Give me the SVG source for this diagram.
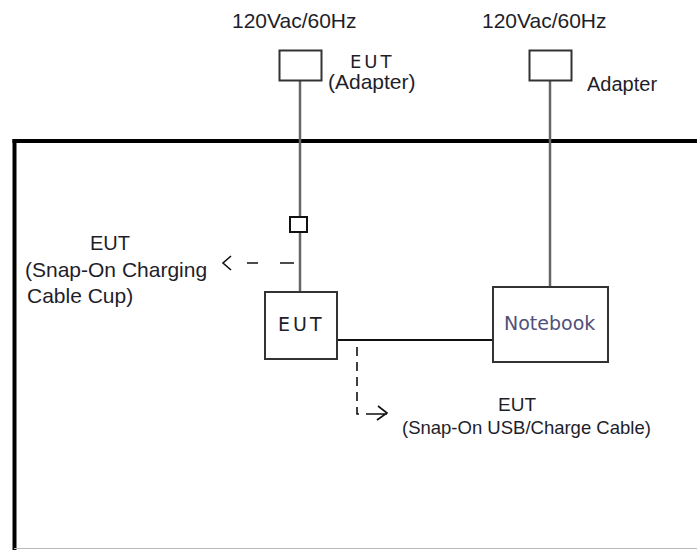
<svg xmlns="http://www.w3.org/2000/svg" width="697" height="550" viewBox="0 0 697 550">
<style>
.box{fill:#fff;stroke:#333;stroke-width:2}
.wire{fill:none;stroke:#666;stroke-width:2.5}
.link{fill:none;stroke:#111;stroke-width:2}
.dash{fill:none;stroke:#111;stroke-width:1.6}
.t{font-family:"Liberation Sans",Arial,sans-serif;fill:#1e1e2a}
.tv{font-family:"DejaVu Sans",Verdana,sans-serif;fill:#1e1e2a}
</style>
<rect width="697" height="550" fill="#fff"/>
<g id="frame">
<line x1="12.5" y1="141" x2="697" y2="141" stroke="#000" stroke-width="4"/>
<line x1="14.5" y1="139" x2="14.5" y2="550" stroke="#000" stroke-width="4"/>
<line x1="14" y1="548.5" x2="697" y2="548.5" stroke="#bbb" stroke-width="1"/>
</g>
<g id="connectors">
<line class="wire" x1="300" y1="81" x2="300" y2="217"/>
<line class="wire" x1="300" y1="232" x2="300" y2="292"/>
<line class="wire" x1="550" y1="81" x2="550" y2="287"/>
<line class="link" x1="337" y1="340" x2="493" y2="340"/>
<path class="dash" d="M294,263 H280 M258,263 H247"/>
<path class="dash" d="M231,256 L223,263 L231,270"/>
<path class="dash" d="M357,347 V414 H361" stroke-dasharray="9,6"/>
<path class="dash" d="M366,414 H387 M378,406 L387,413 L377,420"/>
</g>
<g id="label-supply-left"><text class="t" x="232" y="28" font-size="21">120Vac/60Hz</text></g>
<g id="label-supply-right"><text class="t" x="482" y="28" font-size="21">120Vac/60Hz</text></g>
<g id="adapter-eut">
<rect class="box" x="279.5" y="50.5" width="42" height="30"/>
<text class="tv" x="350" y="68" font-size="18" letter-spacing="3">EUT</text>
<text class="t" x="328" y="89" font-size="21">(Adapter)</text>
</g>
<g id="adapter">
<rect class="box" x="529.5" y="50.5" width="42" height="30"/>
<text class="t" x="587" y="91" font-size="20">Adapter</text>
</g>
<g id="cable-cup">
<rect x="290" y="217" width="17" height="15" fill="#fff" stroke="#111" stroke-width="2"/>
<text class="t" x="90" y="250" font-size="20">EUT</text>
<text class="t" x="25" y="277" font-size="21">(Snap-On Charging</text>
<text class="t" x="27" y="303" font-size="21">Cable Cup)</text>
</g>
<g id="eut">
<rect class="box" x="265" y="292" width="72" height="67"/>
<text class="tv" x="278" y="331" font-size="19" letter-spacing="3">EUT</text>
</g>
<g id="notebook">
<rect class="box" x="493" y="287" width="115" height="75"/>
<text class="tv" x="504" y="330" font-size="19" fill="#50507a" style="fill:#50507a">Notebook</text>
</g>
<g id="usb-cable">
<text class="t" x="498" y="411" font-size="19">EUT</text>
<text class="t" x="402" y="434" font-size="18.5">(Snap-On USB/Charge Cable)</text>
</g>
</svg>
